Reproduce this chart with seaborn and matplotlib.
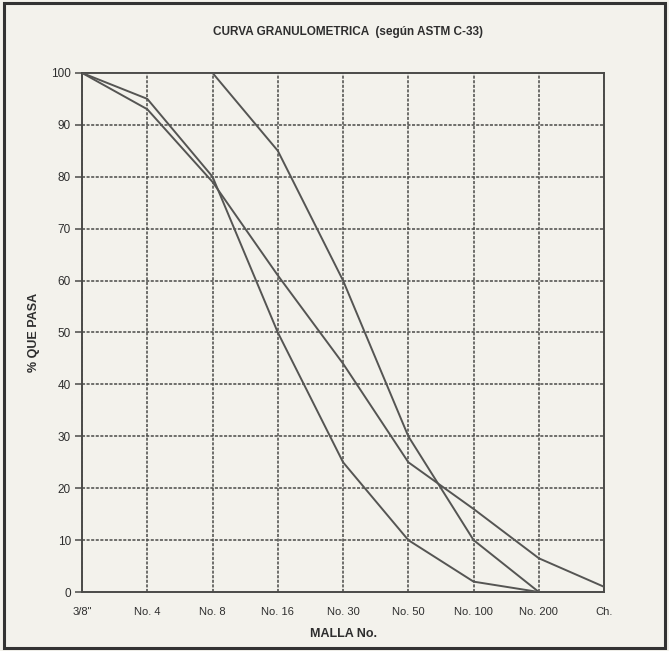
import pandas as pd
import matplotlib.pyplot as plt
import seaborn as sns
from matplotlib.patches import Rectangle

# Sieve sizes (x categories)
mallas = ['3/8"', "No. 4", "No. 8", "No. 16", "No. 30", "No. 50", "No. 100", "No. 200", "Ch."]

# % passing
limite_inferior = [100, 95, 80, 50, 25, 10, 2, 0, None]
limite_superior = [100, 100, 100, 85, 60, 30, 10, 0, None]
muestra = [100, 93, 79, 61, 44, 25, 16, 6.5, 1]

rows = []
for name, vals in [("inf", limite_inferior), ("sup", limite_superior), ("muestra", muestra)]:
    for i, v in enumerate(vals):
        if v is not None:
            rows.append({"pos": i, "pasa": v, "serie": name})
df = pd.DataFrame(rows)

sns.set_theme(style="white")
plt.rcParams["font.family"] = ["Liberation Sans", "DejaVu Sans"]

paper = "#f3f2ec"
ink = "#4a4a48"
txt = "#2e2e2e"

fig = plt.figure(figsize=(6.69, 6.51), dpi=100, facecolor=paper)
ax = fig.add_axes([0.1226, 0.0906, 0.7804, 0.7974])
ax.set_facecolor(paper)

# grid first so the curves sit on top
for i in range(len(mallas)):
    ax.axvline(i, color=ink, lw=1.1, ls=(0, (2, 1)), zorder=1)
for y in range(10, 100, 10):
    ax.axhline(y, color=ink, lw=1.1, ls=(0, (2, 1)), zorder=1)

sns.lineplot(data=df, x="pos", y="pasa", units="serie", estimator=None,
             color="#555553", lw=1.4, ax=ax, zorder=3)

ax.set_xlim(0, len(mallas) - 1)
ax.set_ylim(0, 100)
ax.set_xticks(range(len(mallas)))
ax.set_xticklabels(mallas, fontsize=8, color=txt)
ax.set_yticks(range(0, 101, 10))
ax.tick_params(axis="y", left=True, length=5, width=1.1, color=ink,
               labelsize=8.5, labelcolor=txt, pad=3)
ax.tick_params(axis="x", pad=5)

for s in ax.spines.values():
    s.set_color(ink)
    s.set_linewidth(1.4)

ax.set_xlabel("MALLA No.", fontsize=9, color=txt, labelpad=8, fontweight="semibold")
ax.set_ylabel("% QUE PASA", fontsize=9, color=txt, labelpad=8, fontweight="semibold")
fig.text(0.52, 0.951, "CURVA GRANULOMETRICA  (según ASTM C-33)",
         ha="center", va="center", fontsize=8.5, color=txt, fontweight="semibold")

# outer frame of the scanned page
fig.patches.append(Rectangle((0.006, 0.004), 0.988, 0.992, transform=fig.transFigure,
                             fill=False, ec="#333333", lw=2.2))

fig.savefig("out.png", dpi=100, facecolor=paper)
